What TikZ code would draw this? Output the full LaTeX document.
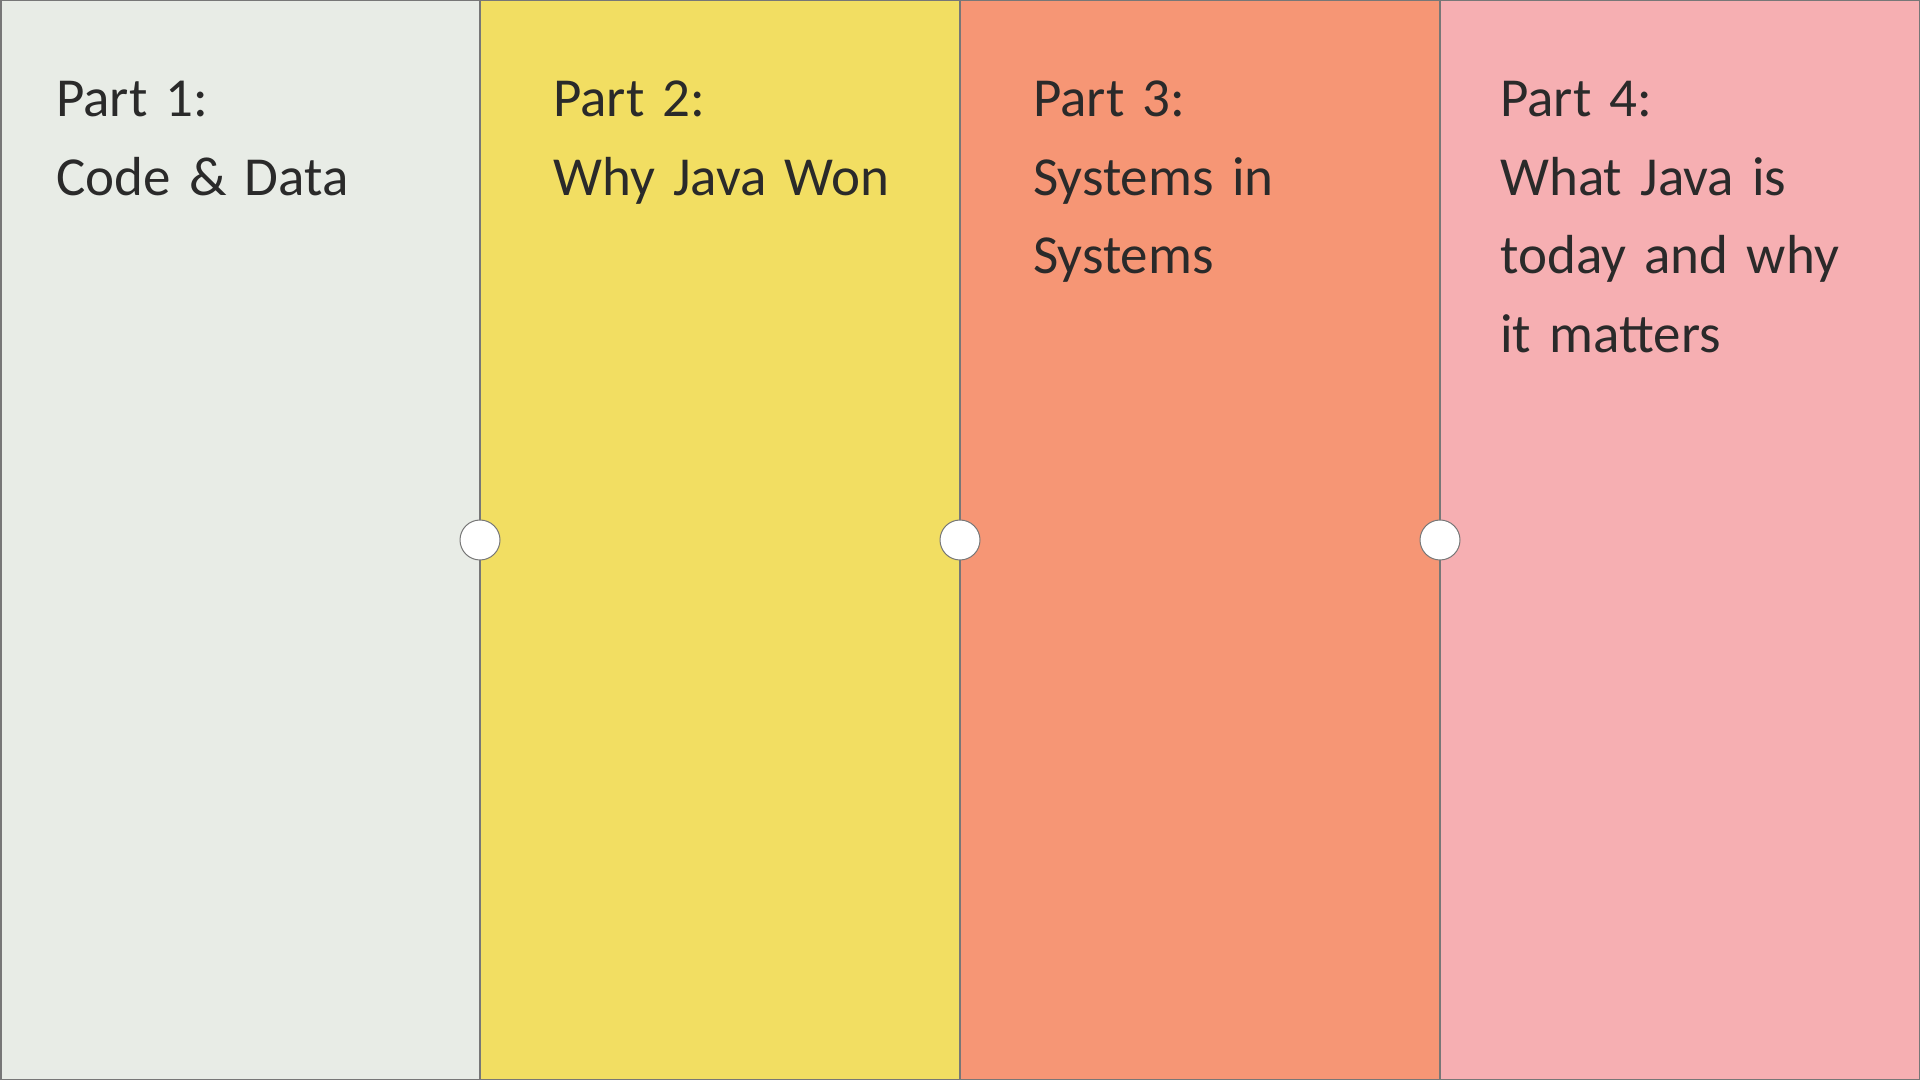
\documentclass[tikz,border=0pt]{standalone}
\usepackage{fontspec}
\setmainfont{Carlito}
\definecolor{colA}{HTML}{E8ECE6}
\definecolor{colB}{HTML}{F2DE62}
\definecolor{colC}{HTML}{F69675}
\definecolor{colD}{HTML}{F6AFB2}
\definecolor{edge}{HTML}{777777}
\definecolor{ink}{HTML}{2A2A2A}
\begin{document}
\begin{tikzpicture}[x=1pt,y=1pt,
  panel/.style={draw=edge,line width=1.5pt},
  title/.style={anchor=base west,inner sep=0pt,text=ink,text width=420pt,align=left,
    font=\fontsize{55}{78.4}\selectfont},
  joint/.style={circle,draw=edge,fill=white,line width=1pt,minimum size=40pt,inner sep=0pt}]
\useasboundingbox (0,0) rectangle (1920,1080);
\fill[colA] (0,0) rectangle (480,1080);
\fill[colB] (480,0) rectangle (960,1080);
\fill[colC] (960,0) rectangle (1440,1080);
\fill[colD] (1440,0) rectangle (1920,1080);
\draw[panel] (0.75,0.75) rectangle (480,1079.25);
\draw[panel] (480,0.75) rectangle (960,1079.25);
\draw[panel] (960,0.75) rectangle (1440,1079.25);
\draw[panel] (1440,0.75) rectangle (1919.25,1079.25);
\node[title] (t1) at (56,963) {Part 1:\\Code \& Data};
\node[title] (t2) at (553,963) {Part 2:\\Why Java Won};
\node[title] (t3) at (1033,963) {Part 3:\\Systems in\\Systems};
\node[title] (t4) at (1500,963) {Part 4:\\What Java is\\today and why\\it matters};
\node[joint] (j1) at (480,540) {};
\node[joint] (j2) at (960,540) {};
\node[joint] (j3) at (1440,540) {};
\end{tikzpicture}
\end{document}
